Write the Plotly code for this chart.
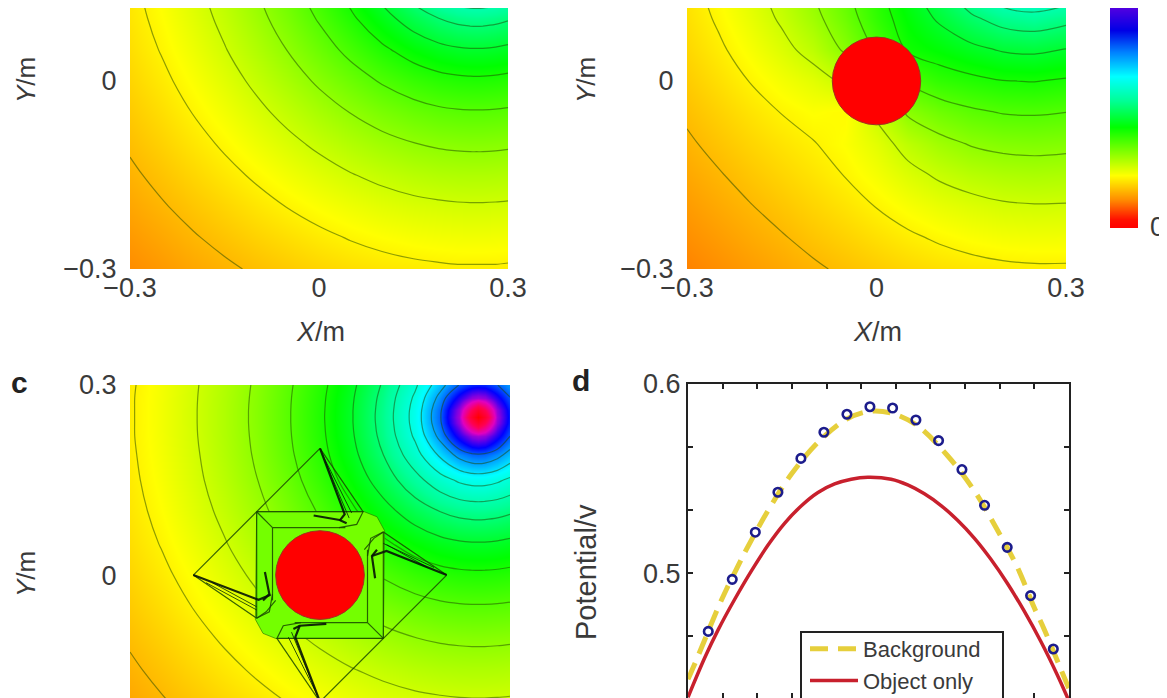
import plotly.graph_objects as go

PAGE_MARGIN = 8
W, H = 1167 - PAGE_MARGIN, 698 - PAGE_MARGIN

# ---- potential fields (contour level numbers) ----
GRID = [-0.3, -0.25, -0.2, -0.15, -0.1, -0.05, 0, 0.05, 0.1, 0.15, 0.19, 0.22, 0.24, 0.25, 0.26, 0.28, 0.3]
Z_BG = [
    [-1.78, -1.56, -1.33, -1.12, -.91, -.71, -.53, -.37, -.24, -.15, -.10, -.07, -.07, -.07, -.07, -.07, -.09],
    [-1.56, -1.31, -1.06, -.82, -.58, -.36, -.15, .04, .19, .31, .37, .40, .41, .41, .41, .40, .38],
    [-1.33, -1.06, -.79, -.51, -.24, .02, .26, .48, .67, .81, .88, .92, .93, .93, .93, .92, .90],
    [-1.12, -.82, -.51, -.20, .10, .41, .69, .96, 1.18, 1.36, 1.46, 1.50, 1.51, 1.51, 1.51, 1.50, 1.47],
    [-.91, -.58, -.24, .10, .46, .81, 1.15, 1.47, 1.75, 1.98, 2.10, 2.15, 2.17, 2.17, 2.17, 2.15, 2.12],
    [-.71, -.36, .02, .41, .81, 1.22, 1.63, 2.02, 2.38, 2.67, 2.84, 2.91, 2.93, 2.93, 2.93, 2.91, 2.87],
    [-.53, -.15, .26, .69, 1.15, 1.63, 2.12, 2.61, 3.08, 3.47, 3.70, 3.80, 3.83, 3.84, 3.83, 3.80, 3.74],
    [-.37, .04, .48, .96, 1.47, 2.02, 2.61, 3.23, 3.84, 4.39, 4.73, 4.89, 4.94, 4.94, 4.94, 4.89, 4.79],
    [-.24, .19, .67, 1.18, 1.75, 2.38, 3.08, 3.84, 4.65, 5.46, 6.00, 6.27, 6.35, 6.37, 6.35, 6.27, 6.11],
    [-.15, .31, .81, 1.36, 1.98, 2.67, 3.47, 4.39, 5.46, 6.66, 7.61, 8.16, 8.35, 8.37, 8.35, 8.16, 7.82],
    [-.10, .37, .88, 1.46, 2.10, 2.84, 3.70, 4.73, 6.00, 7.61, 9.19, 10.35, 10.83, 10.90, 10.83, 10.35, 9.60],
    [-.07, .40, .92, 1.50, 2.15, 2.91, 3.80, 4.89, 6.27, 8.16, 10.35, 12.62, 14.07, 14.33, 14.07, 12.62, 11.04],
    [-.07, .41, .93, 1.51, 2.17, 2.93, 3.83, 4.94, 6.35, 8.35, 10.83, 14.07, 18.05, 19.77, 18.05, 14.07, 11.71],
    [-.07, .41, .93, 1.51, 2.17, 2.93, 3.84, 4.94, 6.37, 8.37, 10.90, 14.33, 19.77, 22.0, 19.77, 14.33, 11.80],
    [-.07, .41, .93, 1.51, 2.17, 2.93, 3.83, 4.94, 6.35, 8.35, 10.83, 14.07, 18.05, 19.77, 18.05, 14.07, 11.71],
    [-.07, .40, .92, 1.50, 2.15, 2.91, 3.80, 4.89, 6.27, 8.16, 10.35, 12.62, 14.07, 14.33, 14.07, 12.62, 11.04],
    [-.09, .38, .90, 1.47, 2.12, 2.87, 3.74, 4.79, 6.11, 7.82, 9.60, 11.04, 11.71, 11.80, 11.71, 11.04, 10.09],
]
OBJ_X = [-0.3, -0.25, -0.2, -0.15, -0.1, -0.05, 0, 0.05, 0.1, 0.15, 0.2, 0.25, 0.3]
OBJ_Y = [-0.3, -0.25, -0.2, -0.15, -0.1, -0.05, 0, 0.05, 0.1, 0.15]
Z_OBJ = [
    [-1.94, -1.73, -1.52, -1.31, -1.10, -.89, -.69, -.50, -.34, -.22, -.13, -.09, -.09],
    [-1.73, -1.50, -1.27, -1.05, -.81, -.58, -.34, -.11, .09, .25, .36, .41, .40],
    [-1.52, -1.27, -1.03, -.78, -.53, -.27, .02, .31, .57, .75, .90, .95, .94],
    [-1.31, -1.05, -.78, -.52, -.27, .02, .37, .77, 1.11, 1.36, 1.51, 1.57, 1.53],
    [-1.10, -.81, -.53, -.27, -.03, .23, .67, 1.28, 1.75, 2.06, 2.22, 2.27, 2.22],
    [-.89, -.58, -.27, .02, .23, .14, 1.13, 2.12, 2.57, 2.86, 3.04, 3.08, 3.00],
    [-.69, -.34, .02, .37, .67, 1.13, 2.12, 3.11, 3.57, 3.79, 3.98, 4.03, 3.90],
    [-.50, -.11, .31, .77, 1.28, 2.12, 3.11, 4.10, 4.42, 4.78, 5.08, 5.16, 4.97],
    [-.34, .09, .57, 1.11, 1.75, 2.57, 3.57, 4.42, 5.14, 5.83, 6.40, 6.60, 6.30],
    [-.22, .25, .75, 1.36, 2.06, 2.86, 3.79, 4.78, 5.83, 6.98, 8.09, 8.60, 8.01],
]

# colour scale of the fields: level number -> colour
FIELD_LEVELS = [-4, -1.78, 0.2, 4.35, 6.5, 8.7, 10.5, 12.2, 13.8, 15.3, 18, 22]
FIELD_COLORS = ["#ff0000", "#ff8c00", "#ffff00", "#00ff00", "#00ff96", "#00ffff",
                "#0082ff", "#0000ff", "#8000e0", "#e000c0", "#ff0050", "#ff0000"]
FIELD_SCALE = [[(v - FIELD_LEVELS[0]) / (FIELD_LEVELS[-1] - FIELD_LEVELS[0]), c]
               for v, c in zip(FIELD_LEVELS, FIELD_COLORS)]

# colour bar
BAR_LEVELS = [0, .05, .1, .15, .2, .25, .3, .35, .4, .45, .5, .55, .6, .65, .7, .75, .8, .85, .9, .95, 1]
BAR_STOPS = [0, .04, .13, .24, .46, .58, .69, .8, .9, 1]
BAR_COLORS = ["#ff0000", "#ff1000", "#ff8c00", "#ffff00", "#00ff00", "#00ff96", "#00ffff", "#0082ff", "#0000e6", "#5000e0"]

# cloak region and mesh of panel c
PATCH_X = [-.1, .07, .09, .102, .1, -.07, -.09, -.102, -.1]
PATCH_Y = [.1, .1, .092, .07, -.1, -.1, -.092, -.07, .1]
THIN_X = [0, -0.2, None, 0.2, 0, None,
          -0.1, 0.068, 0.058, 0.03, None, -0.1, -0.1, -0.085, -0.07, None,
          0.1, -0.068, -0.058, -0.03, None, 0.1, 0.1, 0.085, 0.07, None,
          -0.075, 0.04, None, -0.075, -0.075, None, 0.075, -0.04, None, 0.075, 0.075, None,
          -0.1, -0.075, None, 0.1, 0.075, None,
          0, 0.068, None, 0.2, 0.1, 0.08, 0.075, None, -0.2, -0.1, -0.08, -0.075, None, 0, -0.068]
THIN_Y = [0.2, 0, None, 0, -0.2, None,
          0.1, 0.1, 0.08, 0.075, None, 0.1, -0.068, -0.058, -0.04, None,
          -0.1, -0.1, -0.08, -0.075, None, -0.1, 0.068, 0.058, 0.04, None,
          0.075, 0.075, None, 0.075, -0.04, None, -0.075, -0.075, None, -0.075, 0.04, None,
          0.1, 0.075, None, -0.1, -0.075, None,
          0.2, 0.1, None, 0, 0.068, 0.058, 0.03, None, 0, -0.068, -0.058, -0.03, None, -0.2, -0.1]
DARK_X = [0, 0.039, 0.031, None, -0.01, 0.031, 0.042, None,
          0.2, 0.105, 0.082, None, 0.087, 0.082, 0.09, None,
          -0.2, -0.097, -0.078, None, -0.087, -0.08, -0.09, None,
          0, -0.039, -0.032, None, 0.01, -0.032, -0.042]
DARK_Y = [0.2, 0.096, 0.086, None, 0.094, 0.087, 0.082, None,
          0, 0.038, 0.03, None, -0.005, 0.03, 0.04, None,
          0, -0.039, -0.031, None, 0.005, -0.03, -0.04, None,
          -0.2, -0.098, -0.08, None, -0.077, -0.08, -0.085]
BUNDLE_X = [0.004, 0.05, None, 0.008, 0.046, None, 0.18, 0.1, None, 0.17, 0.105, None,
            -0.18, -0.1, None, -0.17, -0.1, None, -0.004, -0.05, None, -0.008, -0.045]
BUNDLE_Y = [0.19, 0.098, None, 0.18, 0.09, None, 0.012, 0.05, None, 0.012, 0.048, None,
            -0.012, -0.055, None, -0.012, -0.05, None, -0.19, -0.098, None, -0.18, -0.09]

# panel d curves
BACK_X = [-.3, -.2917, -.2785, -.2524, -.2392, -.221, -.2078, -.1739, -.1371, -.0953, -.05, -.0135, .02, .059, .1088,
          .1508, .1848, .2188, .245, .2607, .2869, .3]
BACKGROUND = [.444, .4503, .4609, .482, .4917, .504, .5128, .5331, .5524, .5692, .5815, .5856, .5846, .5785, .5621,
              .5436, .5243, .5031, .482, .4706, .4495, .439]
OBJ_CURVE_X = [-.3, -.2733, -.2524, -.2262, -.1999, -.1739, -.1476, -.1214, -.0953, -.0691, -.0429, -.0168, .0199, .046,
               .0723, .0985, .1245, .1508, .177, .2031, .2293, .2555, .2816, .3]
OBJECT_ONLY = [.4345, .4556, .4702, .4864, .5014, .5149, .5265, .5357, .5427, .5472, .5497, .5507, .5497, .5467,
               .542, .5358, .528, .5186, .5074, .4946, .4801, .4641, .4463, .4325]
CLOAK_X = [-.2681, -.2303, -.194, -.1584, -.1222, -.086, -.0497, -.0135, .0222, .0589, .0946, .1314, .167, .2027, .2395, .2753]
CLOAK_V = [.4693, .4968, .5217, .5428, .5607, .5745, .584, .588, .5873, .581, .5701, .5548, .5359, .5137, .4882, .46]
D_XTICKS = [-.3, -.2455, -.1909, -.1364, -.0818, -.0273, .0273, .0818, .1364, .1909, .2455, .3]
D_YTICKS = [.4667, .5, .5333, .5667, .6]
D_YTEXT = ["", "0.5", "", "", "0.6"]

FONT = "Liberation Sans"
INK = "#3a3a3a"
TICK = 27


def px(a):
    return (a - PAGE_MARGIN) / W


def py(b):
    return 1 - (b - PAGE_MARGIN) / H


def dom_x(a, b):
    return [px(a), px(b)]


def dom_y(top, bottom):
    return [py(bottom), py(top)]


def field(z, x, y, xa, ya):
    return go.Contour(x=x, y=y, z=z, xaxis=xa, yaxis=ya, colorscale=FIELD_SCALE,
                      zmin=FIELD_LEVELS[0], zmax=FIELD_LEVELS[-1], showscale=False,
                      contours=dict(coloring="heatmap", start=-2, end=11, size=1, showlines=True),
                      line=dict(color="rgba(30,70,0,0.5)", width=1.2, smoothing=1),
                      showlegend=False, hoverinfo="skip")


fig = go.Figure()
fig.add_trace(field(Z_BG, GRID, GRID, "x", "y"))
fig.add_trace(field(Z_OBJ, OBJ_X, OBJ_Y, "x2", "y2"))
fig.add_trace(field(Z_BG, GRID, GRID, "x3", "y3"))
fig.add_trace(go.Scatter(x=PATCH_X, y=PATCH_Y, xaxis="x3", yaxis="y3", mode="lines", fill="toself",
                         fillcolor="#74ff00", line=dict(color="rgba(30,110,0,0.6)", width=1),
                         showlegend=False, hoverinfo="skip"))
fig.add_trace(go.Scatter(x=THIN_X, y=THIN_Y, xaxis="x3", yaxis="y3", mode="lines",
                         line=dict(color="rgba(25,70,0,0.85)", width=1.2), showlegend=False, hoverinfo="skip"))
fig.add_trace(go.Scatter(x=BUNDLE_X, y=BUNDLE_Y, xaxis="x3", yaxis="y3", mode="lines",
                         line=dict(color="rgba(5,40,5,0.8)", width=1), showlegend=False, hoverinfo="skip"))
fig.add_trace(go.Scatter(x=DARK_X, y=DARK_Y, xaxis="x3", yaxis="y3", mode="lines",
                         line=dict(color="rgba(5,20,5,0.9)", width=2.2), showlegend=False, hoverinfo="skip"))

fig.add_trace(go.Scatter(x=BACK_X, y=BACKGROUND, xaxis="x4", yaxis="y4", mode="lines", name="Background",
                         legendgroup="a", line=dict(color="#e6cf3c", width=5, dash="18px,10px", shape="spline")))
fig.add_trace(go.Scatter(x=OBJ_CURVE_X, y=OBJECT_ONLY, xaxis="x4", yaxis="y4", mode="lines", name="Object only",
                         legendgroup="b", line=dict(color="#c8202d", width=3.5, shape="spline")))
fig.add_trace(go.Scatter(x=CLOAK_X, y=CLOAK_V, xaxis="x4", yaxis="y4", mode="markers", showlegend=False,
                         marker=dict(symbol="circle-open", size=8.5, color="#1c1c8c", line=dict(width=2.6, color="#1c1c8c"))))

bar_scale = [[s, c] for s, c in zip(BAR_STOPS, BAR_COLORS)]
fig.add_trace(go.Heatmap(x=[0, 1], y=BAR_LEVELS, z=[[v, v] for v in BAR_LEVELS], xaxis="x5", yaxis="y5",
                         colorscale=bar_scale, zmin=0, zmax=1, zsmooth="best", showscale=False, hoverinfo="skip"))


def field_axes(xd, yd, yr):
    hidden = "rgba(0,0,0,0)"
    xa = dict(domain=dom_x(*xd), range=[-0.3, 0.3], tickmode="array", tickvals=[-0.3, 0, 0.3],
              ticktext=["\u22120.3", "0", "0.3"], ticks="", showgrid=False, zeroline=False, showline=False,
              tickfont=dict(family=FONT, size=TICK, color=INK))
    ya = dict(domain=dom_y(*yd), range=yr, tickmode="array", tickvals=[-0.3, 0, 0.3],
              ticktext=["\u22120.3", "0", "0.3"], ticks="outside", ticklen=7, tickcolor=hidden,
              showgrid=False, zeroline=False, showline=False,
              tickfont=dict(family=FONT, size=TICK, color=INK))
    return xa, ya


xa1, ya1 = field_axes((130, 508), (8, 269), [-0.3, 0.1164])
xa2, ya2 = field_axes((687, 1066), (8, 269), [-0.3, 0.1164])
xa3, ya3 = field_axes((130, 510), (385, 698), [-0.194, 0.3])
xa3["showticklabels"] = False


def circle(xr, yr):
    return dict(type="circle", xref=xr, yref=yr, x0=-0.07, x1=0.07, y0=-0.07, y1=0.07,
                fillcolor="#ff0000", line=dict(color="#a03020", width=1), layer="above")


def note(x, y, text, size=TICK, angle=0, bold=False):
    return dict(xref="paper", yref="paper", x=px(x), y=py(y), text=f"<b>{text}</b>" if bold else text,
                showarrow=False, textangle=angle, xanchor="center", yanchor="middle",
                font=dict(family=FONT, size=size, color="#222222" if bold else INK))


fig.update_layout(
    width=W, height=H, margin=dict(l=0, r=0, t=0, b=0, autoexpand=False), paper_bgcolor="white", plot_bgcolor="white",
    font=dict(family=FONT, color=INK),
    xaxis=xa1, yaxis=dict(anchor="x", **ya1),
    xaxis2=dict(anchor="y2", **xa2), yaxis2=dict(anchor="x2", **ya2),
    xaxis3=dict(anchor="y3", **xa3), yaxis3=dict(anchor="x3", **ya3),
    xaxis4=dict(anchor="y4", domain=dom_x(688, 1069), range=[-0.3, 0.3], tickmode="array", tickvals=D_XTICKS,
                showticklabels=False, ticks="inside", ticklen=5, tickwidth=2, tickcolor="#222",
                showline=True, linewidth=2, linecolor="#222", mirror="allticks", showgrid=False, zeroline=False),
    yaxis4=dict(anchor="x4", domain=dom_y(384, 698), range=[0.4341, 0.6], tickmode="array", tickvals=D_YTICKS,
                ticktext=D_YTEXT, ticks="inside", ticklen=5, tickwidth=2, tickcolor="#222",
                tickfont=dict(family=FONT, size=TICK, color=INK),
                showline=True, linewidth=2, linecolor="#222", mirror="allticks", showgrid=False, zeroline=False),
    xaxis5=dict(anchor="y5", domain=dom_x(1110, 1138), range=[0, 1], visible=False),
    yaxis5=dict(anchor="x5", domain=dom_y(8, 228), range=[0, 1], visible=False),
    legend=dict(x=px(805), y=py(628), xanchor="left", yanchor="top", bgcolor="rgba(0,0,0,0)",
                borderwidth=0, tracegroupgap=0, itemwidth=48, font=dict(family=FONT, size=22, color=INK)),
    shapes=[
        circle("x2", "y2"), circle("x3", "y3"),
        dict(type="rect", xref="paper", yref="paper", x0=px(801), x1=px(1003), y0=-0.1, y1=py(632),
             fillcolor="white", line=dict(color="#222", width=2), layer="above"),
    ],
    annotations=[
        note(26, 80, "<i>Y</i>/m", 26, -90), note(586, 80, "<i>Y</i>/m", 26, -90), note(26, 574, "<i>Y</i>/m", 26, -90),
        note(320, 332, "<i>X</i>/m", 27), note(877, 332, "<i>X</i>/m", 27),
        note(586, 572, "Potential/v", 29, -90),
        note(19, 382, "c", 30, bold=True), note(581, 380, "d", 30, bold=True),
        note(1157, 227, "0", TICK),
    ],
)
fig.write_html("out.html")
